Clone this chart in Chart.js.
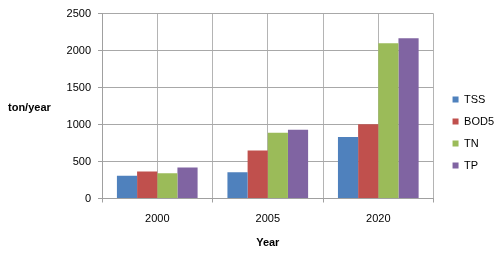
<!DOCTYPE html>
<html>
<head>
<meta charset="utf-8">
<script src="https://cdn.jsdelivr.net/npm/chart.js@4/dist/chart.umd.min.js"></script>
<style>
html,body{margin:0;padding:0;background:#fff;}
#wrap{width:500px;height:258px;position:relative;}
</style>
</head>
<body>
<div id="wrap"><canvas id="c" width="500" height="258"></canvas></div>
<script>
const categories = ["2000", "2005", "2020"];
const seriesNames = ["TSS", "BOD5", "TN", "TP"];
const tss  = [308, 356, 833];
const bod5 = [365, 650, 1005];
const tn   = [343, 890, 2100];
const tp   = [418, 930, 2168];
const yTicks = [0, 500, 1000, 1500, 2000, 2500];
const yTitle = "ton/year";
const xTitle = "Year";

const colors = ["#4F81BD", "#C0504D", "#9BBB59", "#8064A2"];
const values = [tss, bod5, tn, tp];
const FONT = "'Liberation Sans', Arial, sans-serif";

const yTitlePlugin = {
  id: 'yTitlePlugin',
  afterLayout(chart) {
    if (chart.legend) {
      chart.legend.left += 8; chart.legend.right += 8;
      chart.legend.top -= 3; chart.legend.bottom -= 3;
    }
  },
  afterDraw(chart) {
    const ctx = chart.ctx;
    ctx.save();
    ctx.font = "bold 11px " + FONT;
    ctx.fillStyle = "#000";
    ctx.textAlign = "left";
    ctx.textBaseline = "middle";
    ctx.fillText(yTitle, 8, 108);
    ctx.restore();
  }
};

new Chart(document.getElementById('c'), {
  type: 'bar',
  data: {
    labels: categories,
    datasets: seriesNames.map((n, i) => ({
      label: n,
      data: values[i],
      backgroundColor: colors[i],
      borderWidth: 0,
      categoryPercentage: 0.73,
      barPercentage: 1.0
    }))
  },
  options: {
    responsive: false,
    animation: false,
    devicePixelRatio: 1,
    layout: { padding: { top: 13, right: 4, left: 0, bottom: 0 } },
    plugins: {
      legend: {
        position: 'right',
        labels: {
          boxWidth: 6, boxHeight: 6,
          padding: 11,
          color: '#000',
          font: { family: FONT, size: 11 }
        }
      },
      tooltip: { enabled: false },
      title: { display: false }
    },
    scales: {
      x: {
        type: 'category',
        offset: true,
        grid: { offset: true, color: '#b4b4b4', tickLength: 4, tickColor: '#a0a0a0' },
        border: { color: '#a0a0a0' },
        ticks: { color: '#000', font: { family: FONT, size: 11 }, padding: 10 },
        title: { display: true, text: xTitle, color: '#000', font: { family: FONT, size: 11, weight: 'bold' }, padding: { top: 2, bottom: 8 } },
        afterFit(s) { s.height = 59.5; }
      },
      x2: {
        type: 'category',
        labels: categories,
        position: 'bottom',
        offset: true,
        grid: { offset: false, color: '#b4b4b4', drawTicks: false },
        border: { display: false },
        ticks: { display: false },
        afterFit(s) { s.height = 0; }
      },
      y: {
        min: 0, max: 2500,
        afterBuildTicks(s) { s.ticks = yTicks.map(v => ({ value: v })); },
        grid: { color: '#a8a8a8', tickLength: 4, tickColor: '#a0a0a0' },
        border: { color: '#a0a0a0' },
        ticks: { color: '#000', font: { family: FONT, size: 11 }, padding: 7, callback: v => String(v) },
        afterFit(s) { s.width = 102; }
      }
    }
  },
  plugins: [yTitlePlugin]
});
</script>
</body>
</html>
